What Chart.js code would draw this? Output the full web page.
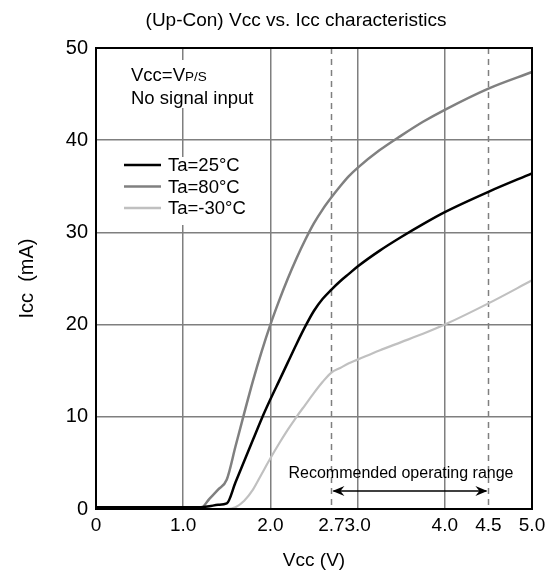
<!DOCTYPE html>
<html>
<head>
<meta charset="utf-8">
<script src="https://cdn.jsdelivr.net/npm/chart.js@4/dist/chart.umd.min.js"></script>
<style>
  html, body { margin: 0; padding: 0; background: #fff; }
  #wrap { width: 558px; height: 575px; }
</style>
</head>
<body>
<div id="wrap"><canvas id="myChart" width="558" height="575"></canvas></div>
<script>
// Vcc (V) sample points shared by the three curves
const vcc    = [0, 1.0, 1.2, 1.3, 1.4, 1.5, 1.6, 1.7, 1.8, 1.9, 2.0, 2.1, 2.2, 2.3, 2.4, 2.5, 2.6, 2.7, 2.8, 2.9, 3.0, 3.25, 3.5, 3.75, 4.0, 4.5, 5.0];
// Icc (mA)
const icc25  = [0.2, 0.2, 0.2, 0.3, 0.45, 0.6, 2.9, 5.2, 7.5, 9.8, 11.9, 13.9, 15.9, 17.9, 19.8, 21.5, 22.8, 23.8, 24.7, 25.5, 26.3, 28.0, 29.5, 30.9, 32.2, 34.4, 36.4];
const icc80  = [0.1, 0.1, 0.1, 1.1, 2.1, 3.2, 6.8, 10.4, 13.9, 17.1, 20.0, 22.6, 25.0, 27.2, 29.2, 31.0, 32.5, 33.8, 35.0, 36.1, 37.0, 38.9, 40.5, 42.0, 43.3, 45.6, 47.4];
const iccM30 = [0, 0, 0, 0, 0, 0, 0.2, 0.9, 2.1, 3.8, 5.5, 7.1, 8.6, 10.0, 11.3, 12.6, 13.8, 14.8, 15.3, 15.8, 16.2, 17.2, 18.1, 19.0, 20.0, 22.3, 24.8];

const seriesLabels = ['Ta=25°C', 'Ta=80°C', 'Ta=-30°C'];
const seriesColors = ['#000000', '#808080', '#c0c0c0'];

const xTicks = [0, 1.0, 2.0, 2.7, 3.0, 4.0, 4.5, 5.0];
const dashedX = [2.7, 4.5];   // recommended range limits
const rangeText = 'Recommended operating range';

const FONT = 'Liberation Sans, Arial, sans-serif';

function pts(ys) {
  return vcc.map(function (v, i) { return { x: v, y: ys[i] }; });
}

// cosas dibujadas a mano: titulo, notas, leyenda, rango recomendado
const extras = {
  id: 'extras',
  beforeDatasetsDraw: function (chart) {
    const ctx = chart.ctx;
    const a = chart.chartArea;
    const xs = chart.scales.x;
    ctx.save();
    ctx.strokeStyle = '#7f7f7f';
    ctx.lineWidth = 1.5;
    ctx.setLineDash([6, 5]);
    dashedX.forEach(function (v) {
      const px = Math.round(xs.getPixelForValue(v)) + 0.5;
      ctx.beginPath();
      ctx.moveTo(px, a.top);
      ctx.lineTo(px, a.bottom);
      ctx.stroke();
    });
    ctx.restore();
  },
  afterDatasetsDraw: function (chart) {
    const ctx = chart.ctx;
    const a = chart.chartArea;
    const xs = chart.scales.x;
    ctx.save();

    // plot frame
    ctx.strokeStyle = '#000';
    ctx.lineWidth = 2;
    ctx.strokeRect(a.left, a.top, a.right - a.left, a.bottom - a.top);

    // title
    ctx.fillStyle = '#000';
    ctx.font = '19px ' + FONT;
    ctx.textAlign = 'center';
    ctx.textBaseline = 'middle';
    ctx.fillText('(Up-Con) Vcc vs. Icc characteristics', 296, 21);

    // conditions note
    ctx.fillStyle = '#fff';
    ctx.fillRect(128, 60, 130, 48);
    ctx.fillStyle = '#000';
    ctx.textAlign = 'left';
    ctx.textBaseline = 'alphabetic';
    ctx.font = '18.5px ' + FONT;
    ctx.fillText('Vcc=V', 131, 81);
    const w = ctx.measureText('Vcc=V').width;
    ctx.font = '13.5px ' + FONT;
    ctx.fillText('P/S', 131 + w, 81);
    ctx.font = '18.5px ' + FONT;
    ctx.fillText('No signal input', 131, 104);

    // legend
    ctx.fillStyle = '#fff';
    ctx.fillRect(120, 157, 130, 68);
    ctx.textBaseline = 'middle';
    chart.data.datasets.forEach(function (ds, i) {
      const y = 165 + i * 21.5;
      ctx.strokeStyle = ds.borderColor;
      ctx.lineWidth = 2.5;
      ctx.beginPath();
      ctx.moveTo(124, y);
      ctx.lineTo(161, y);
      ctx.stroke();
      ctx.fillStyle = '#000';
      ctx.fillText(ds.label, 168, y + 1);
    });

    // recommended operating range
    const x1 = xs.getPixelForValue(dashedX[0]);
    const x2 = xs.getPixelForValue(dashedX[1]);
    const ay = 491;
    ctx.font = '16px ' + FONT;
    ctx.textAlign = 'center';
    ctx.fillText(rangeText, 401, 474);
    ctx.strokeStyle = '#000';
    ctx.fillStyle = '#000';
    ctx.lineWidth = 1.5;
    ctx.beginPath();
    ctx.moveTo(x1 + 2, ay);
    ctx.lineTo(x2 - 2, ay);
    ctx.stroke();
    [[x1 + 1, 1], [x2 - 1, -1]].forEach(function (h) {
      ctx.beginPath();
      ctx.moveTo(h[0], ay);
      ctx.lineTo(h[0] + h[1] * 12, ay - 5);
      ctx.lineTo(h[0] + h[1] * 8, ay);
      ctx.lineTo(h[0] + h[1] * 12, ay + 5);
      ctx.closePath();
      ctx.fill();
    });
    ctx.restore();
  }
};

const ctx = document.getElementById('myChart');
const myChart = new Chart(ctx, {
  type: 'line',
  data: {
    datasets: [
      { label: seriesLabels[0], data: pts(icc25),  borderColor: seriesColors[0], borderWidth: 2.5 },
      { label: seriesLabels[1], data: pts(icc80),  borderColor: seriesColors[1], borderWidth: 2.5 },
      { label: seriesLabels[2], data: pts(iccM30), borderColor: seriesColors[2], borderWidth: 2.2 }
    ]
  },
  options: {
    responsive: false,
    animation: false,
    devicePixelRatio: 1,
    layout: { padding: { top: 48, right: 26, left: 0, bottom: 0 } },
    elements: {
      point: { radius: 0 },
      line: { cubicInterpolationMode: 'monotone', fill: false, borderJoinStyle: 'round' }
    },
    datasets: { line: { clip: 4 } },
    plugins: {
      legend: { display: false },
      tooltip: { enabled: false }
    },
    scales: {
      x: {
        type: 'linear',
        min: 0,
        max: 5,
        afterBuildTicks: function (scale) {
          scale.ticks = xTicks.map(function (v) { return { value: v }; });
        },
        afterFit: function (scale) { scale.height = 66; },
        ticks: {
          autoSkip: false,
          maxRotation: 0,
          color: '#000',
          padding: 5,
          font: { family: FONT, size: 19 },
          callback: function (v) { return v === 0 ? '0' : Number(v).toFixed(1); }
        },
        grid: {
          drawTicks: false,
          lineWidth: 1.5,
          color: function (c) {
            const v = c.tick ? c.tick.value : null;
            if (v === 0 || v === 5 || dashedX.indexOf(v) >= 0) return 'rgba(0,0,0,0)';
            return '#7f7f7f';
          }
        },
        border: { color: '#000', width: 2 },
        title: {
          display: true,
          text: 'Vcc (V)',
          color: '#000',
          font: { family: FONT, size: 19 },
          padding: { top: 0, bottom: 3 }
        }
      },
      y: {
        min: 0,
        max: 50,
        afterFit: function (scale) { scale.width = 96; },
        ticks: {
          stepSize: 10,
          color: '#000',
          padding: 8,
          font: { family: FONT, size: 20 }
        },
        grid: {
          drawTicks: false,
          lineWidth: 1.5,
          color: function (c) {
            const v = c.tick ? c.tick.value : null;
            if (v === 0 || v === 50) return 'rgba(0,0,0,0)';
            return '#7f7f7f';
          }
        },
        border: { color: '#000', width: 2 },
        title: {
          display: true,
          text: 'Icc  (mA)',
          color: '#000',
          font: { family: FONT, size: 20 },
          padding: { top: 15, bottom: 0 }
        }
      }
    }
  },
  plugins: [extras]
});
</script>
</body>
</html>
